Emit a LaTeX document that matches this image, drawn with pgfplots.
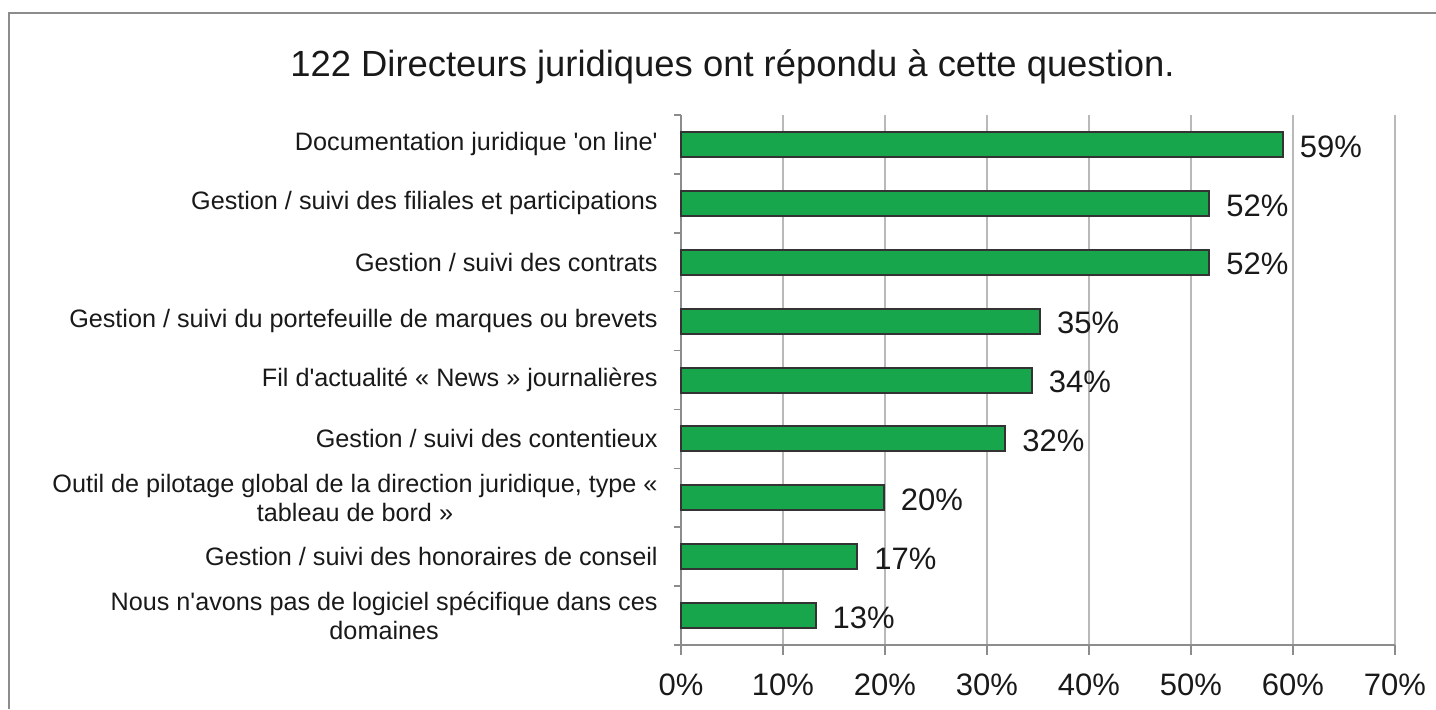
\documentclass[border=0pt]{standalone}
\usepackage{pgfplots}
\pgfplotsset{compat=1.18}
\usepackage{fontspec}
\setmainfont{Liberation Sans}[Ligatures=TeXOff]
\definecolor{bargreen}{RGB}{24,166,76}
\definecolor{txt}{RGB}{25,25,25}
\definecolor{gridc}{RGB}{185,185,185}
\definecolor{axc}{RGB}{140,140,140}
\begin{document}
\begin{tikzpicture}
\useasboundingbox (0,0) rectangle (718pt,-354.5pt);
\draw[color=axc, line width=0.8pt] (4.5pt,-354.5pt) -- (4.5pt,-6.5pt) -- (718pt,-6.5pt);
\node[anchor=base west, inner sep=0pt, text=txt, font=\fontsize{18.2}{21}\selectfont] at (145pt,-38pt) {122 Directeurs juridiques ont répondu à cette question.};
\begin{axis}[
  at={(340.5pt,-322.5pt)}, anchor=south west,
  scale only axis, width=357pt, height=265pt,
  xbar, bar width=12.5pt, bar shift=0pt,
  xmin=0, xmax=70, ymin=0.5, ymax=9.5,
  y dir=reverse,
  axis lines=left, axis line style={-, draw=axc, line width=0.8pt},
  xtick={0,10,...,70},
  xticklabel={\pgfmathprintnumber{\tick}\%},
  xticklabel style={font=\fontsize{15.5}{18}\selectfont, text=txt, yshift=-6pt},
  /pgf/number format/assume math mode=true,
  tick align=outside,
  major tick length=5pt, minor tick length=3.5pt,
  every major x tick/.style={draw=axc, line width=0.8pt},
  every major y tick/.style={draw=none},
  every minor y tick/.style={draw=axc, line width=0.8pt},
  ytick={1,...,9},
  minor ytick={0.5,1.5,...,9.5},
  yticklabels={
    {Documentation juridique 'on line'},
    {Gestion / suivi des filiales et participations},
    {Gestion / suivi des contrats},
    {Gestion / suivi du portefeuille de marques ou brevets},
    {Fil d'actualité « News » journalières},
    {Gestion / suivi des contentieux},
    {Outil de pilotage global de la direction juridique, type «\\tableau de bord »},
    {Gestion / suivi des honoraires de conseil},
    {Nous n'avons pas de logiciel spécifique dans ces\\domaines}},
  yticklabel style={font=\fontsize{12.6}{14.5}\selectfont, text=txt, align=center, inner sep=0pt, xshift=-6.5pt},
  xmajorgrids, grid style={draw=gridc, line width=1pt},
  clip=false,
  nodes near coords={\pgfplotspointmeta\%},
  point meta=explicit symbolic,
  every node near coord/.append style={font=\fontsize{15.5}{18}\selectfont, text=txt, anchor=west, inner sep=0pt, xshift=8pt, yshift=-1pt},
]
\addplot[fill=bargreen, draw=black!80, line width=1pt] coordinates {
  (59,1)[59] (51.8,2)[52] (51.8,3)[52] (35.2,4)[35] (34.4,5)[34]
  (31.8,6)[32] (19.9,7)[20] (17.3,8)[17] (13.2,9)[13]
};
\end{axis}
\end{tikzpicture}
\end{document}
